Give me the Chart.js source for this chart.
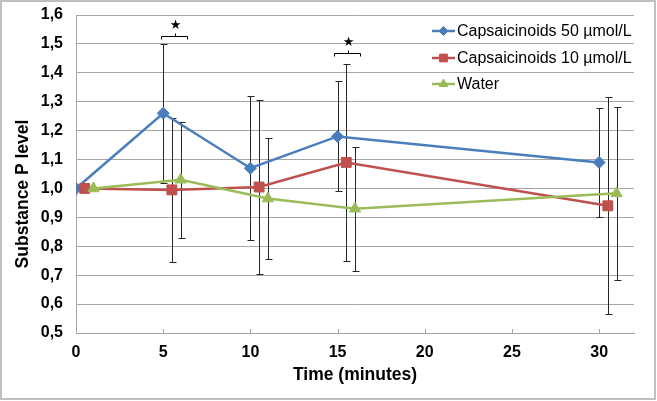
<!DOCTYPE html>
<html>
<head>
<meta charset="utf-8">
<script src="https://cdn.jsdelivr.net/npm/chart.js@4/dist/chart.umd.min.js"></script>
<style>
  html, body { margin: 0; padding: 0; background: #fff; }
  #wrap { width: 657px; height: 401px; position: relative; }
</style>
</head>
<body>
<div id="wrap"><canvas id="chart" width="657" height="401"></canvas></div>
<script>
// time points (each series shifted a little, as in the original)
const times50 = [0, 5, 10, 15, 30];
const times10 = [0.5, 5.5, 10.5, 15.5, 30.5];
const timesWater = [1, 6, 11, 16, 31];

const caps50 = [1.00, 1.26, 1.07, 1.18, 1.09];
const caps50Err = [0, 0.24, 0.25, 0.19, 0.19];
const caps10 = [1.00, 0.995, 1.005, 1.09, 0.94];
const caps10Err = [0, 0.25, 0.30, 0.34, 0.375];
const water = [1.00, 1.03, 0.965, 0.93, 0.983];
const waterErr = [0, 0.20, 0.21, 0.215, 0.30];

const xTicks = [0, 5, 10, 15, 20, 25, 30];
const seriesNames = ["Capsaicinoids 50 \u00b5mol/L", "Capsaicinoids 10 \u00b5mol/L", "Water"];

// significance brackets: [from, to] in minutes and the level they sit at
const sigRanges = [[4.9, 6.35], [14.8, 16.3]];
const sigLevels = [1.528, 1.467];

const colors = ["#4A7EBB", "#C0504D", "#9BBB59"];
const styles = ["rectRot", "rect", "triangle"];
const radii = [6, 7, 6.5];

function pts(xs, ys) {
    return xs.map((x, i) => ({ x: x, y: ys[i] }));
}

const errors = [caps50Err, caps10Err, waterErr];

const errorBars = {
    id: "errorBars",
    beforeDatasetsDraw(chart) {
        const ctx = chart.ctx;
        const xs = chart.scales.x, ys = chart.scales.y;
        ctx.save();
        ctx.strokeStyle = "#262626";
        ctx.lineWidth = 1;
        chart.data.datasets.forEach((ds, d) => {
            ds.data.forEach((p, i) => {
                const e = errors[d][i];
                if (!e) return;
                const px = Math.round(xs.getPixelForValue(p.x)) + 0.5;
                const top = Math.round(ys.getPixelForValue(p.y + e)) + 0.5;
                const bot = Math.round(ys.getPixelForValue(p.y - e)) + 0.5;
                ctx.beginPath();
                ctx.moveTo(px, top); ctx.lineTo(px, bot);
                ctx.moveTo(px - 3, top); ctx.lineTo(px + 4, top);
                ctx.moveTo(px - 3, bot); ctx.lineTo(px + 4, bot);
                ctx.stroke();
            });
        });
        ctx.restore();
    }
};

const extras = {
    id: "extras",
    beforeDraw(chart) {
        const ctx = chart.ctx;
        ctx.save();
        ctx.fillStyle = "#fff";
        ctx.fillRect(0, 0, chart.width, chart.height);
        ctx.restore();
    },
    afterDraw(chart) {
        const ctx = chart.ctx;
        const xs = chart.scales.x, ys = chart.scales.y;
        const area = chart.chartArea;
        ctx.save();

        // outer frame
        ctx.strokeStyle = "#BFBFBF";
        ctx.lineWidth = 2;
        ctx.strokeRect(1, 1, chart.width - 3, chart.height - 3);

        // small tick marks on the x axis
        ctx.strokeStyle = "#A6A6A6";
        ctx.lineWidth = 1;
        xTicks.forEach(v => {
            const px = Math.round(xs.getPixelForValue(v)) + 0.5;
            ctx.beginPath();
            ctx.moveTo(px, area.bottom);
            ctx.lineTo(px, area.bottom - 4);
            ctx.stroke();
        });

        // y axis title
        ctx.fillStyle = "#000";
        ctx.font = "bold 17.5px 'Liberation Sans', Arial, sans-serif";
        ctx.textAlign = "center";
        ctx.textBaseline = "middle";
        ctx.translate(23, 194);
        ctx.rotate(-Math.PI / 2);
        ctx.fillText("Substance P level", 0, 0);
        ctx.setTransform(1, 0, 0, 1, 0, 0);

        // significance brackets with stars
        ctx.strokeStyle = "#000";
        ctx.lineWidth = 1;
        sigRanges.forEach((r, i) => {
            const x1 = Math.round(xs.getPixelForValue(r[0])) + 0.5;
            const x2 = Math.round(xs.getPixelForValue(r[1])) + 0.5;
            const y = Math.round(ys.getPixelForValue(sigLevels[i])) + 0.5;
            const xm = Math.round((x1 + x2) / 2) + 0.5;
            ctx.beginPath();
            ctx.moveTo(x1, y + 3); ctx.lineTo(x1, y); ctx.lineTo(x2, y); ctx.lineTo(x2, y + 3);
            ctx.moveTo(xm, y); ctx.lineTo(xm, y - 3);
            ctx.stroke();
            ctx.font = "13px 'DejaVu Sans', sans-serif";
            ctx.textAlign = "center";
            ctx.textBaseline = "middle";
            ctx.fillText("\u2605", xm, y - 11);
        });

        // legend
        const lx = area.right - 202;
        const rows = [area.top + 16, area.top + 43, area.top + 69];
        ctx.font = "16px 'Liberation Sans', Arial, sans-serif";
        ctx.textAlign = "left";
        ctx.textBaseline = "middle";
        seriesNames.forEach((name, i) => {
            const y = rows[i];
            ctx.strokeStyle = colors[i];
            ctx.lineWidth = 2.5;
            ctx.beginPath();
            ctx.moveTo(lx, y); ctx.lineTo(lx + 23, y);
            ctx.stroke();
            ctx.fillStyle = colors[i];
            ctx.strokeStyle = colors[i];
            ctx.lineWidth = 1;
            Chart.helpers.drawPoint(ctx, { pointStyle: styles[i], radius: radii[i] - 1.5, rotation: 0, borderWidth: 1 }, lx + 11.5, y);
            ctx.fillStyle = "#000";
            ctx.fillText(name, lx + 25, y + 1);
        });
        ctx.restore();
    }
};

function makeSet(i, xs, ys, order) {
    return {
        label: seriesNames[i],
        data: pts(xs, ys),
        borderColor: colors[i],
        backgroundColor: colors[i],
        borderWidth: 2.5,
        pointStyle: styles[i],
        pointRadius: radii[i],
        pointHoverRadius: radii[i],
        pointBackgroundColor: colors[i],
        pointBorderColor: colors[i],
        pointBorderWidth: 1,
        tension: 0,
        order: order
    };
}

new Chart(document.getElementById("chart"), {
    type: "line",
    data: {
        datasets: [
            makeSet(0, times50, caps50, 3),
            makeSet(1, times10, caps10, 2),
            makeSet(2, timesWater, water, 1)
        ]
    },
    options: {
        responsive: false,
        animation: false,
        layout: { padding: { left: 0, top: 15, right: 23, bottom: 0 } },
        plugins: {
            legend: { display: false },
            tooltip: { enabled: false }
        },
        scales: {
            x: {
                type: "linear",
                min: 0,
                max: 32,
                afterBuildTicks: scale => { scale.ticks = xTicks.map(v => ({ value: v })); },
                afterFit: scale => { scale.height = 68; },
                grid: { display: false, drawTicks: false },
                border: { display: true, color: "#A6A6A6", width: 1 },
                ticks: {
                    padding: 10,
                    color: "#000",
                    font: { family: "'Liberation Sans', Arial, sans-serif", size: 16, weight: "bold" },
                    maxRotation: 0,
                    autoSkip: false
                },
                title: {
                    display: true,
                    text: "Time (minutes)",
                    color: "#000",
                    font: { family: "'Liberation Sans', Arial, sans-serif", size: 17.5, weight: "bold" },
                    padding: { top: 0, bottom: 15 }
                }
            },
            y: {
                min: 0.5,
                max: 1.6,
                afterFit: scale => {
                    scale.width = 76;
                    scale.paddingTop = 0;
                    scale.paddingBottom = 0;
                },
                grid: { color: "#A6A6A6", lineWidth: 1, drawTicks: false },
                border: { display: true, color: "#A6A6A6", width: 1 },
                ticks: {
                    stepSize: 0.1,
                    padding: 13,
                    color: "#000",
                    font: { family: "'Liberation Sans', Arial, sans-serif", size: 16, weight: "bold" },
                    callback: v => v.toFixed(1).replace(".", ",")
                }
            }
        }
    },
    plugins: [errorBars, extras]
});
</script>
</body>
</html>
